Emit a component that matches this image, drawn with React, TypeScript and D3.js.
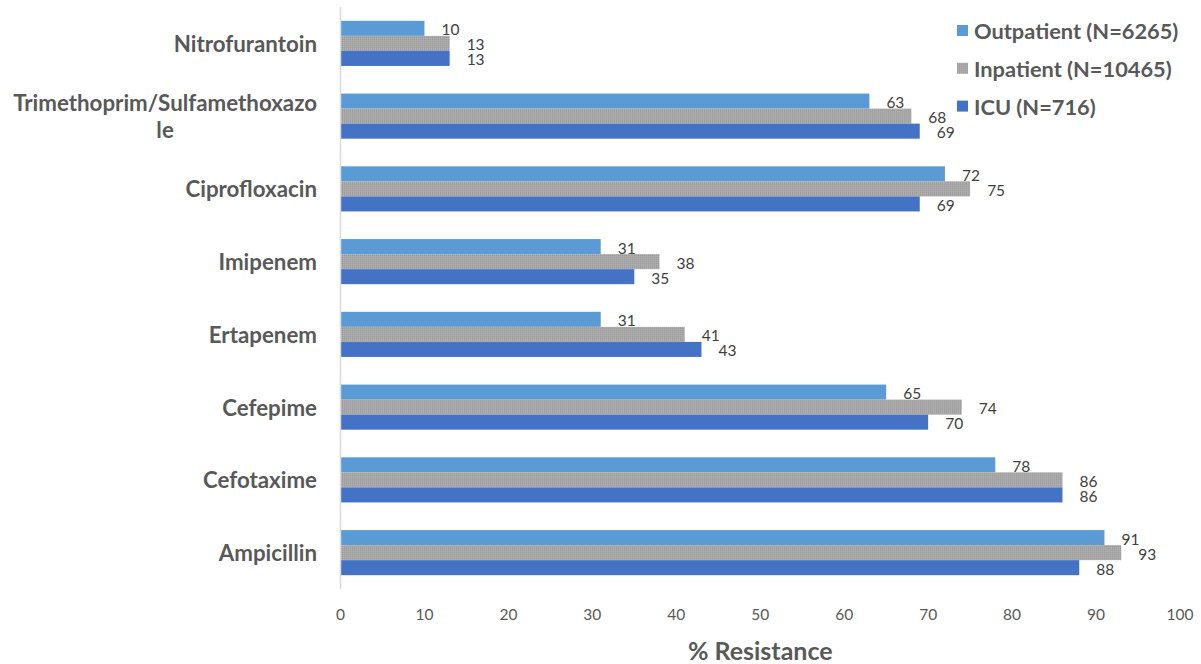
import React, { useEffect, useRef } from "react";
import * as d3 from "d3";

// Antibiotic categories (a "\n" marks where the long name wraps)
const categories = [
  "Nitrofurantoin",
  "Trimethoprim/Sulfamethoxazo\nle",
  "Ciprofloxacin",
  "Imipenem",
  "Ertapenem",
  "Cefepime",
  "Cefotaxime",
  "Ampicillin",
];

const seriesNames = ["Outpatient (N=6265)", "Inpatient (N=10465)", "ICU (N=716)"];
const seriesKeys = ["outpatient", "inpatient", "icu"];

// % resistance per category
const outpatient = [10, 63, 72, 31, 31, 65, 78, 91];
const inpatient = [13, 68, 75, 38, 41, 74, 86, 93];
const icu = [13, 69, 69, 35, 43, 70, 86, 88];

const xTicks = [0, 10, 20, 30, 40, 50, 60, 70, 80, 90, 100];
const xTitle = "% Resistance";

const W = 1201;
const H = 664;
const FONT = "Lato, 'Open Sans', sans-serif";
const TEXT = "#595959";

export default function App() {
  const ref = useRef<SVGSVGElement | null>(null);

  useEffect(() => {
    const svg = d3.select(ref.current);
    svg.selectAll("*").remove();

    const values: Record<string, number[]> = { outpatient, inpatient, icu };

    const x = d3.scaleLinear().domain([0, 100]).range([340.5, 1180]);
    const y = d3
      .scaleBand<string>()
      .domain(categories)
      .range([7, 589])
      .paddingInner(0.38)
      .paddingOuter(0.19);
    const ySub = d3.scaleBand<string>().domain(seriesKeys).range([0, y.bandwidth()]);

    // fine dotted fill for the inpatient series
    const defs = svg.append("defs");
    const pat = defs
      .append("pattern")
      .attr("id", "dots")
      .attr("width", 2)
      .attr("height", 2)
      .attr("patternUnits", "userSpaceOnUse");
    pat.append("rect").attr("width", 2).attr("height", 2).attr("fill", "#a7a7a7");
    pat.append("rect").attr("x", 0).attr("y", 0).attr("width", 1).attr("height", 1).attr("fill", "#9a9a9a");
    pat.append("rect").attr("x", 1).attr("y", 1).attr("width", 1).attr("height", 1).attr("fill", "#b2b2b2");

    const fills: Record<string, string> = {
      outpatient: "#5b9bd5",
      inpatient: "url(#dots)",
      icu: "#4472c4",
    };

    // bars and value labels
    const groups = svg
      .append("g")
      .selectAll("g")
      .data(categories)
      .join("g")
      .attr("transform", (d) => `translate(0,${y(d)})`);

    seriesKeys.forEach((key) => {
      groups
        .append("rect")
        .attr("x", x(0))
        .attr("y", ySub(key)!)
        .attr("width", (_d, i) => x(values[key][i]) - x(0))
        .attr("height", ySub.bandwidth())
        .attr("fill", fills[key]);
      groups
        .append("text")
        .attr("x", (_d, i) => x(values[key][i]) + 17)
        .attr("y", ySub(key)! + ySub.bandwidth() / 2 + 1)
        .attr("dominant-baseline", "central")
        .attr("font-family", FONT)
        .attr("font-size", 15.5)
        .attr("fill", "#404040")
        .text((_d, i) => String(values[key][i]));
    });

    // vertical axis line
    svg
      .append("line")
      .attr("x1", x(0))
      .attr("x2", x(0))
      .attr("y1", 7)
      .attr("y2", 589)
      .attr("stroke", "#d9d9d9")
      .attr("stroke-width", 1.5);

    // category labels, right aligned; wrapped lines centred on each other
    const labelRight = 317;
    categories.forEach((c) => {
      const lines = c.split("\n");
      const lh = 27;
      const cy = y(c)! + y.bandwidth() / 2;
      const tmp = svg
        .append("g")
        .selectAll("text")
        .data(lines)
        .join("text")
        .attr("font-family", FONT)
        .attr("font-weight", 700)
        .attr("font-size", 22.3)
        .attr("fill", TEXT)
        .attr("dominant-baseline", "central")
        .text((d) => d);
      let maxW = 0;
      tmp.each(function () {
        maxW = Math.max(maxW, (this as SVGTextElement).getComputedTextLength());
      });
      const cx = labelRight - maxW / 2;
      tmp
        .attr("text-anchor", "middle")
        .attr("x", cx)
        .attr("y", (_d, i) => cy + (i - (lines.length - 1) / 2) * lh);
    });

    // x tick labels
    svg
      .append("g")
      .selectAll("text")
      .data(xTicks)
      .join("text")
      .attr("x", (d) => x(d))
      .attr("y", 614)
      .attr("text-anchor", "middle")
      .attr("dominant-baseline", "central")
      .attr("font-family", FONT)
      .attr("font-size", 15.5)
      .attr("fill", TEXT)
      .text((d) => String(d));

    // axis title
    svg
      .append("text")
      .attr("x", (x(0) + x(100)) / 2)
      .attr("y", 650)
      .attr("text-anchor", "middle")
      .attr("dominant-baseline", "central")
      .attr("font-family", FONT)
      .attr("font-weight", 700)
      .attr("font-size", 25)
      .attr("fill", TEXT)
      .text(xTitle);

    // legend
    const legend = svg
      .append("g")
      .selectAll("g")
      .data(seriesKeys)
      .join("g")
      .attr("transform", (_d, i) => `translate(957,${30.5 + i * 37.8})`);
    legend
      .append("rect")
      .attr("x", 0)
      .attr("y", -5.5)
      .attr("width", 11)
      .attr("height", 11)
      .attr("fill", (d) => fills[d]);
    legend
      .append("text")
      .attr("x", 17)
      .attr("y", 0)
      .attr("dominant-baseline", "central")
      .attr("font-family", FONT)
      .attr("font-weight", 700)
      .attr("font-size", 21.8)
      .attr("fill", TEXT)
      .text((_d, i) => seriesNames[i]);
  }, []);

  return (
    <svg
      ref={ref}
      width={W}
      height={H}
      style={{ position: "fixed", left: 0, top: 0, background: "#fff", display: "block" }}
    />
  );
}
